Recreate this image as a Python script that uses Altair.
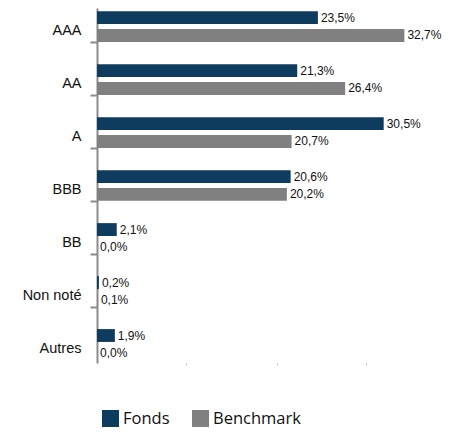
import altair as alt
import pandas as pd

categories = ["AAA", "AA", "A", "BBB", "BB", "Non noté", "Autres"]
fonds = [23.5, 21.3, 30.5, 20.6, 2.1, 0.2, 1.9]
benchmark = [32.7, 26.4, 20.7, 20.2, 0.0, 0.1, 0.0]
series = ["Fonds", "Benchmark"]
colors = ["#0E3C5F", "#808080"]
x_ticks = [9.5, 19.1, 28.6]

rows = []
for c, f, b in zip(categories, fonds, benchmark):
    rows.append({"cat": c, "series": "Fonds", "v": f})
    rows.append({"cat": c, "series": "Benchmark", "v": b})
df = pd.DataFrame(rows)

FONT = "Arial, Liberation Sans, sans-serif"

y = alt.Y(
    "cat:N", sort=categories, title=None,
    scale=alt.Scale(paddingInner=0.42, paddingOuter=0.06),
    axis=alt.Axis(tickBand="extent", tickSize=7, tickWidth=2, tickColor="#8c8c8c",
                  tickOpacity={"condition": {"test": "datum.index < 0 || datum.value == 'Autres'", "value": 0}, "value": 1},
                  domainColor="#8c8c8c", domainWidth=2, labelFont=FONT,
                  labelFontSize=14.5, labelColor="#111111", labelPadding=9, labelOffset=4),
)
yoff = alt.YOffset("series:N", sort=series, scale=alt.Scale(paddingInner=0.28))
x = alt.X(
    "v:Q", title=None,
    scale=alt.Scale(domain=[0, 35], nice=False, zero=True),
    axis=alt.Axis(values=x_ticks, labels=False, domain=False, grid=False,
                  tickSize=2, tickColor="#bbbbbb"),
)
color = alt.Color(
    "series:N", sort=series, title=None,
    scale=alt.Scale(domain=series, range=colors),
    legend=alt.Legend(orient="none", legendX=5, legendY=402, direction="horizontal",
                      symbolType="square", symbolSize=289, symbolStrokeWidth=0,
                      symbolOpacity=1, labelFont="Open Sans", labelFontSize=16.5,
                      labelColor="#111111", labelOffset=4, columnPadding=22, padding=0),
)

base = alt.Chart(df).encode(y=y, yOffset=yoff, x=x)
bars = base.mark_bar().encode(color=color)
text = base.mark_text(
    align="left", baseline="middle", dx=3, font=FONT, fontSize=12, color="#111111"
).encode(text="lbl:N").transform_calculate(
    lbl="replace(format(datum.v, '.1f'), '.', ',') + '%'"
)

chart = (
    alt.layer(bars, text)
    .properties(width=329, height=355, autosize=alt.AutoSizeParams(type="none"),
                padding={"left": 89, "top": 0, "right": 19, "bottom": 66})
    .configure_view(strokeWidth=0)
)
chart.save("out.html", embed_options={"renderer": "svg", "actions": False})
